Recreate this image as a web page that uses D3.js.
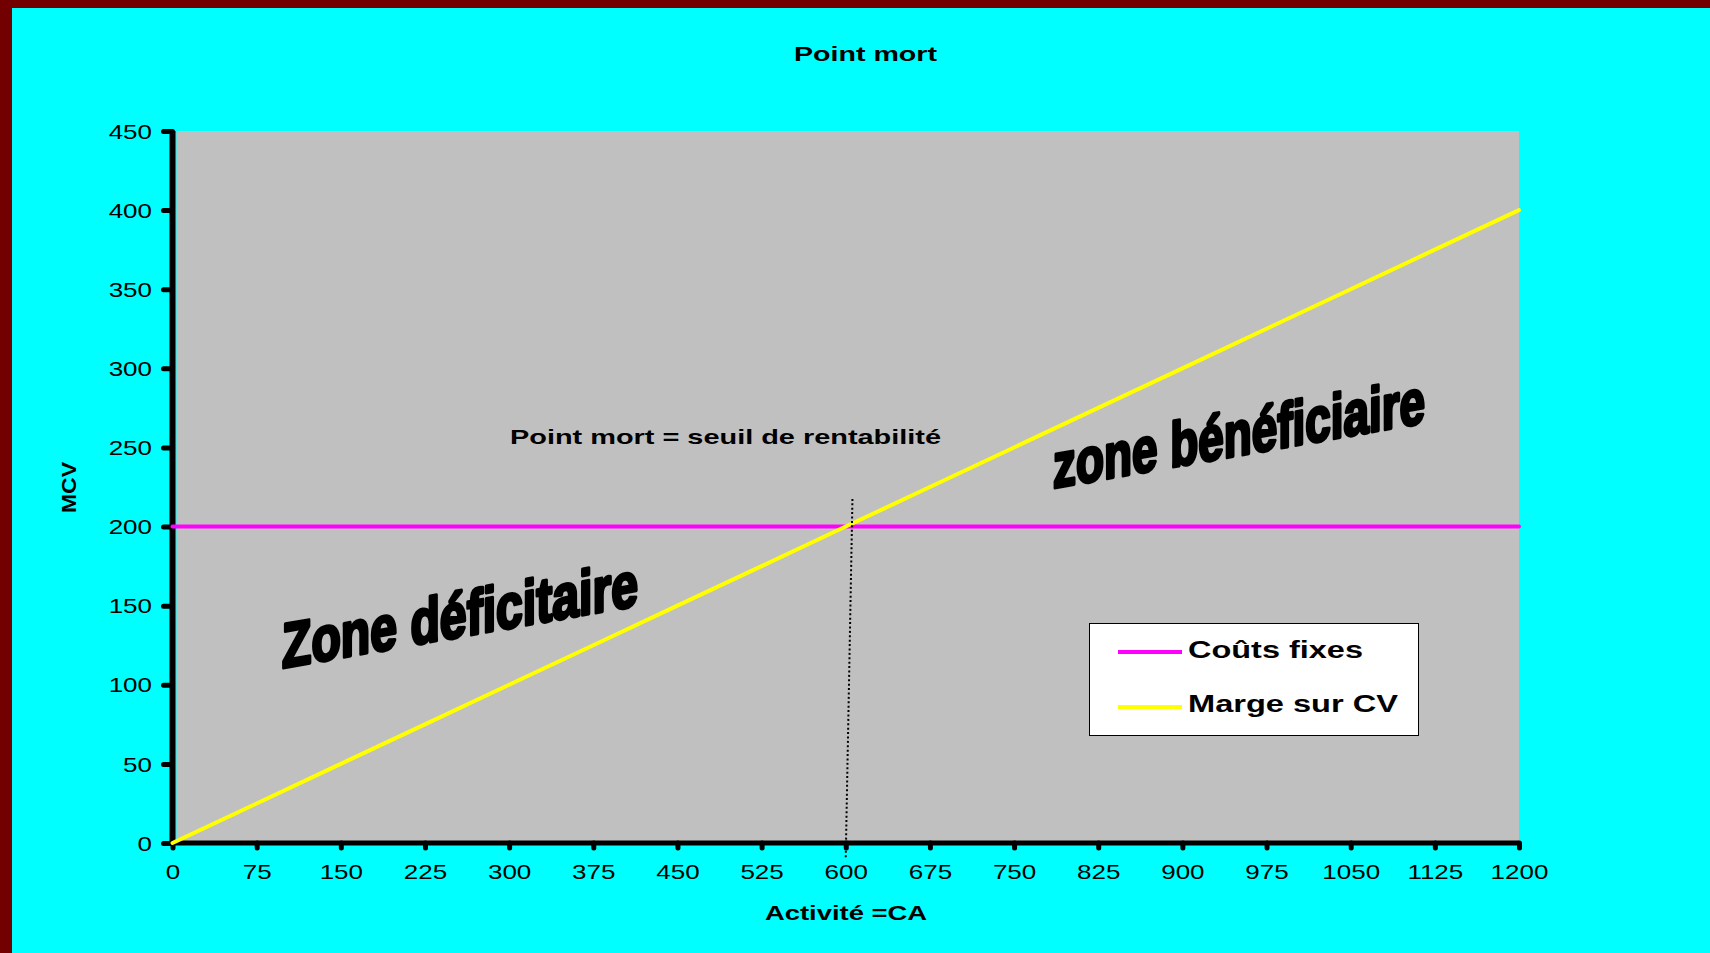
<!DOCTYPE html>
<html lang="fr">
<head>
<meta charset="utf-8">
<title>Point mort</title>
<script src="https://cdn.jsdelivr.net/npm/d3@7"></script>
<style>
  html, body { margin: 0; padding: 0; background: #00FFFF; overflow: hidden; }
  svg { display: block; }
  text { font-family: "Liberation Sans", Arial, sans-serif; fill: #000; }
</style>
</head>
<body>
<svg id="chart" width="1710" height="953"></svg>
<script>
// Activity levels (x axis categories / tick labels)
const activity = [0, 75, 150, 225, 300, 375, 450, 525, 600, 675, 750, 825, 900, 975, 1050, 1125, 1200];
// Fixed costs: constant
const fixedCosts = [200, 200, 200, 200, 200, 200, 200, 200, 200, 200, 200, 200, 200, 200, 200, 200, 200];
// Contribution margin (marge sur coûts variables)
const margin = [0, 25, 50, 75, 100, 125, 150, 175, 200, 225, 250, 275, 300, 325, 350, 375, 400];
// Y axis tick values
const yTicks = [0, 50, 100, 150, 200, 250, 300, 350, 400, 450];
// Break-even marker (dotted guide, slightly slanted)
const breakEven = [{ x: 600, y: -9 }, { x: 606, y: 219 }];

const seriesNames = ["Coûts fixes", "Marge sur CV"];
const seriesColors = ["#FF00FF", "#FFFF00"];

const svg = d3.select("#chart");

// Frame bands
svg.append("rect").attr("x", 0).attr("y", 0).attr("width", 1710).attr("height", 8).attr("fill", "#720000");
svg.append("rect").attr("x", 0).attr("y", 0).attr("width", 12).attr("height", 953).attr("fill", "#720000");

const x = d3.scaleLinear().domain([0, 1200]).range([172.5, 1519]);
const y = d3.scaleLinear().domain([0, 450]).range([843, 131]);

// Plot area
svg.append("rect")
  .attr("x", x(0) + 4).attr("y", y(450))
  .attr("width", x(1200) - x(0) - 4).attr("height", y(0) - y(450))
  .attr("fill", "#C0C0C0");

const LABEL_STRETCH = 1.3;

// Y axis
const gy = svg.append("g").attr("transform", `translate(${x(0)},0)`)
  .call(d3.axisLeft(y).tickValues(yTicks).tickSize(9).tickSizeOuter(0).tickPadding(0));
gy.select(".domain").attr("stroke", "#000").attr("stroke-width", 6)
  .attr("d", `M0,${y(450)}V${y(0) + 2}`);
gy.selectAll(".tick line").attr("stroke", "#000").attr("stroke-width", 5).attr("stroke-linecap", "round");
gy.selectAll(".tick text")
  .attr("font-size", 20)
  .attr("font-family", "Liberation Sans, Arial, sans-serif")
  .attr("text-anchor", "end")
  .attr("x", -20.5 / LABEL_STRETCH)
  .attr("dy", "0.36em")
  .attr("transform", `scale(${LABEL_STRETCH},1)`);

// X axis
const gx = svg.append("g").attr("transform", `translate(0,${y(0)})`)
  .call(d3.axisBottom(x).tickValues(activity).tickFormat(d3.format("d")).tickSize(5).tickSizeOuter(0).tickPadding(0));
gx.select(".domain").attr("stroke", "#000").attr("stroke-width", 5)
  .attr("d", `M${x(0) - 3},0H${x(1200)}`);
gx.selectAll(".tick line").attr("stroke", "#000").attr("stroke-width", 5).attr("stroke-linecap", "round");
gx.selectAll(".tick text")
  .attr("font-size", 20)
  .attr("font-family", "Liberation Sans, Arial, sans-serif")
  .attr("y", 36).attr("dy", 0)
  .attr("transform", `scale(${LABEL_STRETCH},1)`);

// Series lines
const line = d3.line().x((d, i) => x(activity[i])).y(d => y(d));
[fixedCosts, margin].forEach((vals, k) => {
  svg.append("path")
    .datum(vals)
    .attr("d", line)
    .attr("fill", "none")
    .attr("stroke", seriesColors[k])
    .attr("stroke-width", 4)
    .attr("stroke-linejoin", "round")
    .attr("stroke-linecap", "round");
});

// Break-even dotted guide
svg.append("path")
  .datum(breakEven)
  .attr("d", d3.line().x(d => x(d.x)).y(d => y(d.y)))
  .attr("stroke", "#000").attr("stroke-width", 2)
  .attr("stroke-dasharray", "2 2.4")
  .attr("fill", "none");

// Text helper: fixed visible width, stretched glyphs
function label(txt, px, py, size, width, opts = {}) {
  const t = svg.append("text")
    .attr("x", px).attr("y", py)
    .attr("font-size", size)
    .attr("font-weight", opts.weight || "bold")
    .attr("textLength", width)
    .attr("lengthAdjust", "spacingAndGlyphs")
    .text(txt);
  if (opts.anchor) t.attr("text-anchor", opts.anchor);
  if (opts.transform) t.attr("transform", opts.transform);
  return t;
}

// Titles
label("Point mort", 794, 61, 21, 143);
label("Activité =CA", 765, 920, 21, 162);
svg.append("text")
  .attr("transform", "translate(76,487.5) rotate(-90)")
  .attr("text-anchor", "middle")
  .attr("font-size", 20).attr("font-weight", "bold")
  .attr("textLength", 51).attr("lengthAdjust", "spacingAndGlyphs")
  .text("MCV");

// Annotation
label("Point mort = seuil de rentabilité", 510, 444, 21, 431);

// Slanted zone captions
function zone(txt, px, py, width) {
  svg.append("text")
    .attr("transform", `translate(${px},${py}) skewY(-10)`)
    .attr("x", 0).attr("y", 0)
    .attr("font-family", "DejaVu Sans Condensed, DejaVu Sans, sans-serif")
    .attr("font-weight", "bold")
    .attr("font-size", 63)
    .attr("stroke", "#000").attr("stroke-width", 3.5).attr("stroke-linejoin", "round")
    .attr("textLength", width)
    .attr("lengthAdjust", "spacingAndGlyphs")
    .text(txt);
}
zone("Zone déficitaire", 282, 668, 356);
zone("zone bénéficiaire", 1053, 488, 372);

// Legend
const lg = svg.append("g");
lg.append("rect")
  .attr("x", 1089.5).attr("y", 623.5).attr("width", 329).attr("height", 112)
  .attr("fill", "#FFFFFF").attr("stroke", "#000").attr("stroke-width", 1);
const legendRows = [652, 707];
const legendBase = [658, 712];
const legendWidths = [175, 210];
seriesNames.forEach((name, k) => {
  lg.append("line")
    .attr("x1", 1118).attr("x2", 1182)
    .attr("y1", legendRows[k]).attr("y2", legendRows[k])
    .attr("stroke", seriesColors[k]).attr("stroke-width", 4);
  lg.append("text")
    .attr("x", 1188).attr("y", legendBase[k])
    .attr("font-size", 23).attr("font-weight", "bold")
    .attr("textLength", legendWidths[k]).attr("lengthAdjust", "spacingAndGlyphs")
    .text(name);
});
</script>
</body>
</html>
